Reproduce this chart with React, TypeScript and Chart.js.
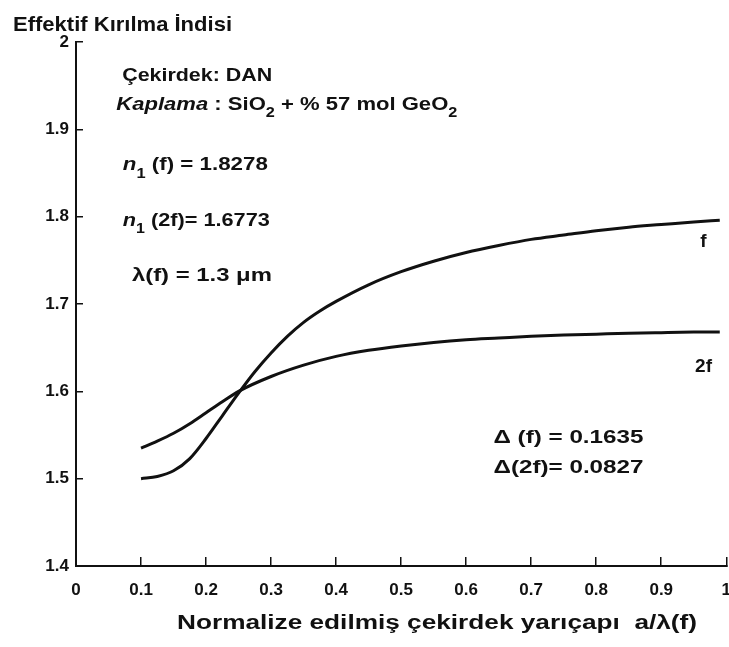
import React, { useEffect, useRef } from 'react';
import { Chart, registerables } from 'chart.js';

Chart.register(...registerables);

// ---- Data ----
const xF = [0.1, 0.125, 0.15, 0.175, 0.2, 0.225, 0.25, 0.275, 0.3, 0.325, 0.35, 0.375, 0.4, 0.45, 0.5, 0.55, 0.6, 0.65, 0.7, 0.75, 0.8, 0.85, 0.9, 0.95, 0.99];
const nF = [1.5, 1.5025, 1.509, 1.523, 1.546, 1.572, 1.598, 1.6225, 1.644, 1.663, 1.679, 1.692, 1.703, 1.722, 1.737, 1.749, 1.759, 1.767, 1.774, 1.779, 1.784, 1.788, 1.791, 1.794, 1.796];

const x2F = [0.1, 0.125, 0.15, 0.175, 0.2, 0.225, 0.25, 0.3, 0.35, 0.4, 0.45, 0.5, 0.55, 0.6, 0.65, 0.7, 0.75, 0.8, 0.85, 0.9, 0.95, 0.99];
const n2F = [1.535, 1.543, 1.552, 1.563, 1.5755, 1.588, 1.6, 1.617, 1.63, 1.64, 1.647, 1.652, 1.656, 1.659, 1.661, 1.663, 1.6645, 1.6655, 1.6665, 1.6672, 1.6678, 1.668];

const xTicks = [0, 0.1, 0.2, 0.3, 0.4, 0.5, 0.6, 0.7, 0.8, 0.9, 1];
const xTickLabels = ['0', '0.1', '0.2', '0.3', '0.4', '0.5', '0.6', '0.7', '0.8', '0.9', '1'];
const yTicks = [1.4, 1.5, 1.6, 1.7, 1.8, 1.9, 2];
const yTickLabels = ['1.4', '1.5', '1.6', '1.7', '1.8', '1.9', '2'];

const yTitle = 'Effektif Kırılma İndisi';
const xTitle = 'Normalize edilmiş çekirdek yarıçapı  a/λ(f)';

type Part = { t: string; sub?: boolean; it?: boolean };

const FAMILY = '"Liberation Sans", Arial, sans-serif';

function drawParts(
  ctx: CanvasRenderingContext2D,
  parts: Part[],
  x: number,
  baseline: number,
  size: number,
  width?: number,
  align: 'left' | 'center' = 'left'
) {
  const fontFor = (p: Part) =>
    `${p.it ? 'italic ' : ''}bold ${p.sub ? Math.round(size * 0.72) : size}px ${FAMILY}`;
  let total = 0;
  for (const p of parts) {
    ctx.font = fontFor(p);
    total += ctx.measureText(p.t).width;
  }
  const sx = width ? width / total : 1;
  const drawnW = total * sx;
  const startX = align === 'center' ? x - drawnW / 2 : x;
  ctx.save();
  ctx.translate(startX, baseline);
  ctx.scale(sx, 1);
  ctx.textAlign = 'left';
  ctx.textBaseline = 'alphabetic';
  ctx.fillStyle = '#111';
  let cx = 0;
  for (const p of parts) {
    ctx.font = fontFor(p);
    ctx.fillText(p.t, cx, p.sub ? size * 0.38 : 0);
    cx += ctx.measureText(p.t).width;
  }
  ctx.restore();
}

const annotations = {
  id: 'annotations',
  afterDraw(chart: any) {
    const ctx: CanvasRenderingContext2D = chart.ctx;
    const xs = chart.scales.x;
    const ys = chart.scales.y;
    const X = (v: number) => xs.getPixelForValue(v);
    const Y = (v: number) => ys.getPixelForValue(v);

    // axis titles
    drawParts(ctx, [{ t: yTitle }], 13, 31, 21, 219);
    drawParts(ctx, [{ t: xTitle }], 437, 629, 20, 520, 'center');

    // info block
    drawParts(ctx, [{ t: 'Çekirdek: DAN' }], X(0.071), Y(1.955), 19, 150);
    drawParts(
      ctx,
      [
        { t: 'Kaplama', it: true },
        { t: ' : SiO' },
        { t: '2', sub: true },
        { t: ' + % 57 mol GeO' },
        { t: '2', sub: true },
      ],
      X(0.062),
      Y(1.922),
      19,
      341
    );
    drawParts(ctx, [{ t: 'n', it: true }, { t: '1', sub: true }, { t: ' (f) = 1.8278' }], X(0.072), Y(1.853), 19, 145);
    drawParts(ctx, [{ t: 'n', it: true }, { t: '1', sub: true }, { t: ' (2f)= 1.6773' }], X(0.072), Y(1.789), 19, 147);
    drawParts(ctx, [{ t: 'λ(f) = 1.3 μm' }], X(0.086), Y(1.726), 19, 140);

    drawParts(ctx, [{ t: 'Δ (f) = 0.1635' }], X(0.642), Y(1.541), 19, 150);
    drawParts(ctx, [{ t: 'Δ(2f)= 0.0827' }], X(0.642), Y(1.507), 19, 150);

    // curve labels
    drawParts(ctx, [{ t: 'f' }], X(0.96), Y(1.765), 19);
    drawParts(ctx, [{ t: '2f' }], X(0.952), Y(1.622), 19);
  },
};

export default function App() {
  const canvasRef = useRef<HTMLCanvasElement | null>(null);

  useEffect(() => {
    const canvas = canvasRef.current;
    if (!canvas) return;
    const tickFont = { family: FAMILY, size: 17, weight: 'bold' as const };
    const chart = new Chart(canvas, {
      type: 'line',
      data: {
        datasets: [
          {
            label: 'f',
            data: xF.map((x, i) => ({ x, y: nF[i] })),
            borderColor: '#111',
            borderWidth: 3,
            pointRadius: 0,
            fill: false,
            cubicInterpolationMode: 'monotone',
          },
          {
            label: '2f',
            data: x2F.map((x, i) => ({ x, y: n2F[i] })),
            borderColor: '#111',
            borderWidth: 3,
            pointRadius: 0,
            fill: false,
            cubicInterpolationMode: 'monotone',
          },
        ],
      },
      options: {
        responsive: false,
        animation: false,
        devicePixelRatio: 1,
        layout: { padding: { left: 8, top: 42, right: 0, bottom: 0 } },
        plugins: {
          legend: { display: false },
          tooltip: { enabled: false },
          title: { display: false },
        },
        scales: {
          x: {
            type: 'linear',
            min: 0,
            max: 1,
            afterFit: (s: any) => {
              s.height = 81;
            },
            afterBuildTicks: (s: any) => {
              s.ticks = xTicks.map((v) => ({ value: v }));
            },
            grid: {
              drawOnChartArea: false,
              drawTicks: true,
              tickLength: -9,
              color: '#111',
              lineWidth: 1.5,
            },
            border: { display: true, color: '#111', width: 2 },
            ticks: {
              font: tickFont,
              color: '#111',
              padding: 23,
              maxRotation: 0,
              autoSkip: false,
              callback: (_v: any, i: number) => xTickLabels[i],
            },
          },
          y: {
            type: 'linear',
            min: 1.4,
            max: 2,
            afterFit: (s: any) => {
              s.width = 68;
            },
            afterBuildTicks: (s: any) => {
              s.ticks = yTicks.map((v) => ({ value: v }));
            },
            grid: {
              drawOnChartArea: false,
              drawTicks: true,
              tickLength: -7,
              color: '#111',
              lineWidth: 1.5,
            },
            border: { display: true, color: '#111', width: 2 },
            ticks: {
              font: tickFont,
              color: '#111',
              padding: 14,
              autoSkip: false,
              callback: (_v: any, i: number) => yTickLabels[i],
            },
          },
        },
      },
      plugins: [annotations],
    });
    return () => chart.destroy();
  }, []);

  return (
    <div
      style={{
        position: 'fixed',
        left: 0,
        top: 0,
        width: 729,
        height: 647,
        overflow: 'hidden',
        background: '#fff',
      }}
    >
      <canvas ref={canvasRef} width={754} height={647} style={{ display: 'block' }} />
    </div>
  );
}
